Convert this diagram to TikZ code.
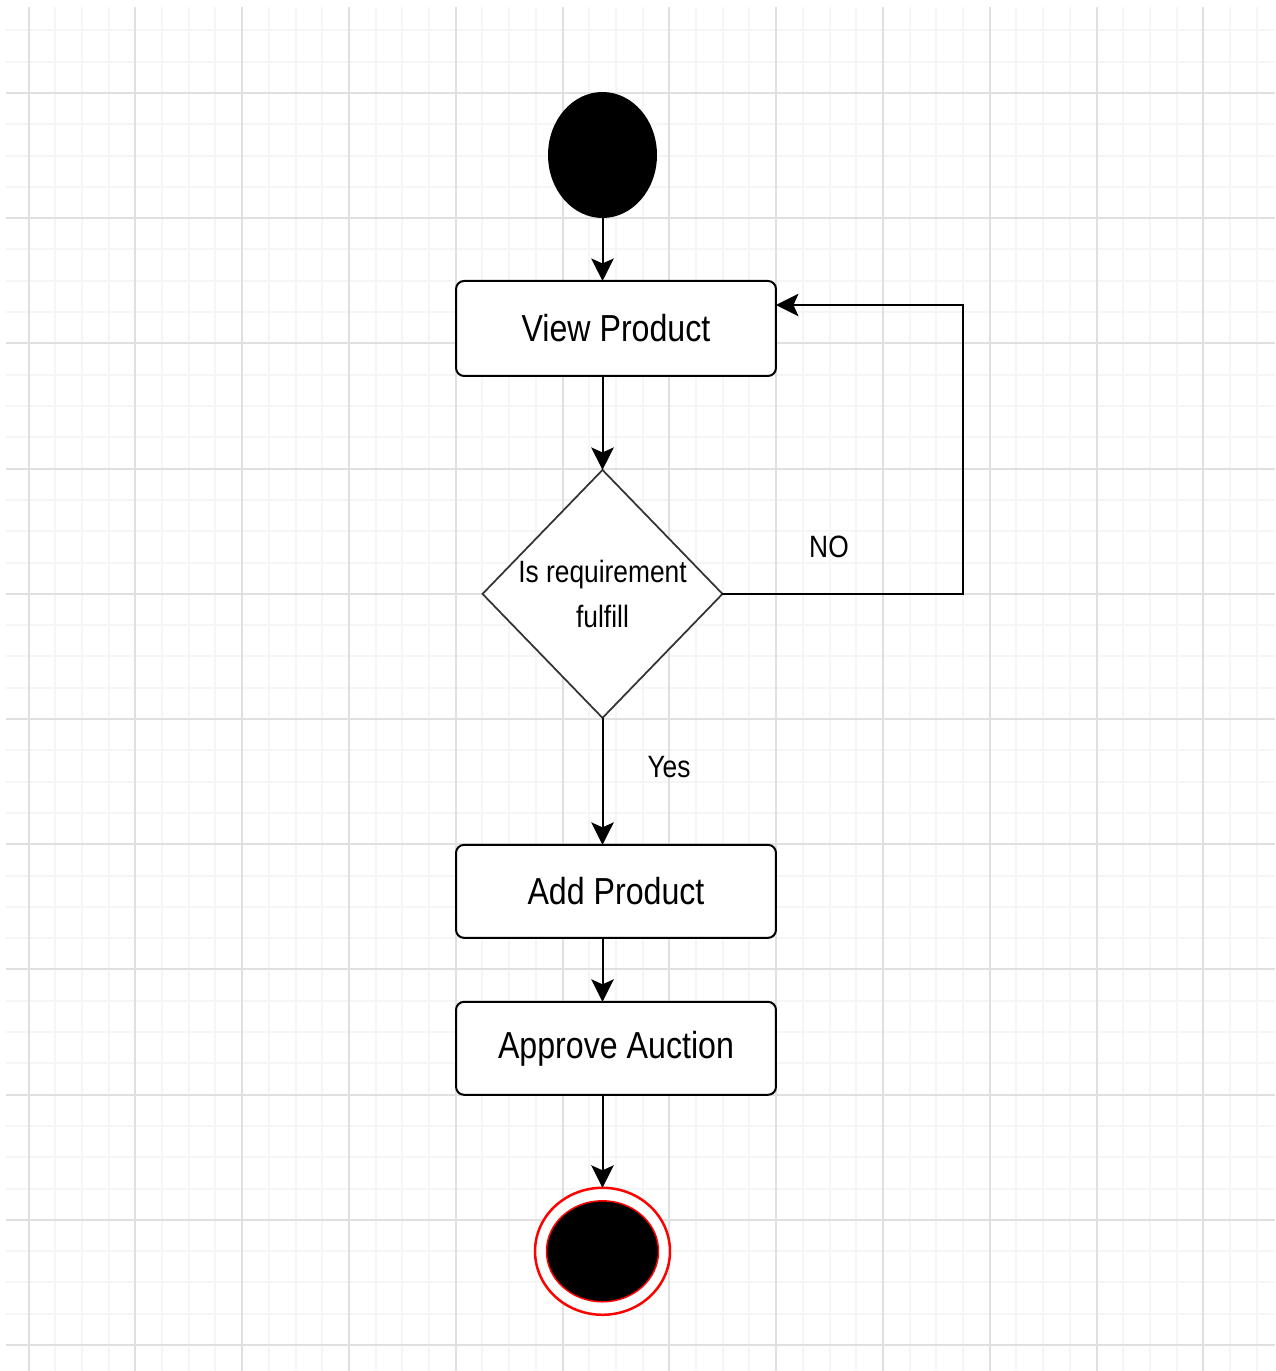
\documentclass[tikz,border=0pt]{standalone}
\usepackage{fontspec}
\setmainfont{Liberation Sans}
\usepackage{graphicx}
\usetikzlibrary{positioning,arrows.meta,shapes.geometric}
\newcommand{\tall}[1]{\scalebox{1}[1.17]{#1}}
\tikzset{
  minorline/.style={draw=black!4, line width=0.04cm},
  majorline/.style={draw=black!12, line width=0.04cm},
  startdot/.style={ellipse, fill=black, minimum width=2.18cm, minimum height=2.52cm, inner sep=0pt, outer sep=0pt},
  actbox/.style={rectangle, rounded corners=0.16cm, draw, line width=0.04cm, fill=white,
                 minimum width=6.4cm, minimum height=1.9cm, inner sep=0pt, outer sep=0pt,
                 font=\fontsize{18.3}{22}\selectfont},
  lowbox/.style={minimum height=1.86cm},
  decision/.style={diamond, draw=black!80, line width=0.035cm, fill=white,
                   minimum width=4.8cm, minimum height=4.96cm, inner sep=0pt, outer sep=0pt},
  endring/.style={ellipse, draw=red, line width=0.05cm, fill=white, minimum width=2.7cm, minimum height=2.54cm, inner sep=0pt, outer sep=0pt},
  endcore/.style={ellipse, draw=red, line width=0.03cm, fill=black, minimum width=2.24cm, minimum height=2.02cm, inner sep=0pt},
  flow/.style={-{Stealth[length=0.45cm, width=0.45cm, inset=0.1cm]}, line width=0.04cm},
  cond/.style={font=\fontsize{15}{26}\selectfont, inner sep=0pt},
}

\begin{document}
\begin{tikzpicture}[x=0.02cm, y=-0.02cm]
  \useasboundingbox (0,0) rectangle (1275,1371);

  % paper grid
  \foreach \k in {0,...,46} \draw[minorline] ({28.5+26.7*\k},7) -- ({28.5+26.7*\k},1371);
  \foreach \k in {0,...,42} \draw[minorline] (6,{30.4+31.3*\k}) -- (1275,{30.4+31.3*\k});
  \foreach \k in {0,...,11} \draw[majorline] ({28.5+106.8*\k},7) -- ({28.5+106.8*\k},1371);
  \foreach \k in {0,...,10} \draw[majorline] (6,{93+125.2*\k}) -- (1275,{93+125.2*\k});

  \node[startdot] (start) at (602.5,155) {};
  \node[actbox] (view) [below=1.26cm of start, xshift=0.27cm] {\tall{View Product}};
  \node[decision] (check) [below=1.88cm of view, xshift=-0.27cm] {};
  \node[cond, align=center] (checktext) at (check) {\tall{Is requirement}\\ \tall{fulfill}};
  \node[actbox, lowbox] (add) [below=2.54cm of check, xshift=0.27cm] {\tall{Add Product}};
  \node[actbox, lowbox] (approve) [below=1.28cm of add] {\tall{Approve Auction}};
  \node[endring] (finish) [below=1.86cm of approve, xshift=-0.27cm] {};
  \node[endcore] (finishcore) at (finish) {};

  \node[cond] (nolabel) at (829,547) {\tall{NO}};
  \node[cond] (yeslabel) at (669,767) {\tall{Yes}};
  \coordinate (loopback) at (963,305);

  \draw[flow] (start) -- (start |- view.north);
  \draw[flow] (check.north |- view.south) -- (check.north);
  \draw[flow] (check.south) -- (check.south |- add.north);
  \draw[flow] (check.south |- add.south) -- (check.south |- approve.north);
  \draw[flow] (finish.north |- approve.south) -- (finish.north);
  \draw[flow] (check.east) -| (loopback) -- (loopback -| view.east);
\end{tikzpicture}
\end{document}
